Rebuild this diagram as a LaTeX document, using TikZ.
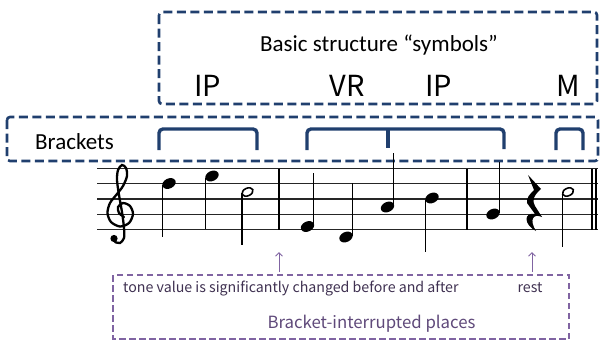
\documentclass[tikz,border=0pt]{standalone}
\usepackage{fontspec}
\setmainfont{Carlito}
\newfontfamily\jpfont{Noto Sans CJK JP}
\usetikzlibrary{arrows.meta}
\definecolor{navy}{HTML}{203F6E}
\definecolor{purp}{HTML}{8064A2}
\definecolor{purptext}{HTML}{5F497A}
\definecolor{darktext}{HTML}{3F3151}
\newcommand\qhead[2]{\fill[shift={(#1,#2)},rotate=25] (0,0) ellipse [x radius=7pt, y radius=5pt];}
\newcommand\hhead[2]{\draw[line width=1.6pt,shift={(#1,#2)},rotate=25] (0,0) ellipse [x radius=5.8pt, y radius=3.8pt];}
\begin{document}
\begin{tikzpicture}[x=1pt,y=-1pt,
  bluebox/.style={draw=navy, line width=2.6pt, dash pattern=on 9pt off 4.5pt, rounded corners=3pt},
  brk/.style={draw=navy, line width=3.4pt, rounded corners=4pt},
  staffline/.style={draw=black!85, line width=1.2pt},
  stemline/.style={draw=black, line width=1.2pt},
  purplebox/.style={draw=purp, line width=1.8pt, dash pattern=on 6.5pt off 3.5pt},
  parrow/.style={draw=purp, line width=1pt, -{Straight Barb[length=3.5pt,width=7pt]}},
  sym/.style={font=\jpfont\fontsize{29}{29}\selectfont, anchor=base, inner sep=0pt},
]
\useasboundingbox (0,0) rectangle (600,341);
% boxes
\draw[bluebox] (159,12) rectangle (597,104);
\draw[bluebox] (7,117) rectangle (598,161);
\node[font=\fontsize{23}{23}\selectfont, anchor=base, inner sep=0pt] (basic) at (379,51) {Basic structure “symbols”};
\node[font=\fontsize{23}{23}\selectfont, anchor=base west, inner sep=0pt] (brackets) at (35,149) {Brackets};
\node[sym] (ip1) at (207.5,96) {IP};
\node[sym] (vr) at (347,96) {VR};
\node[sym] (ip2) at (438.5,96) {IP};
\node[sym] (m) at (568,96) {M};
% brackets
\draw[brk] (159,150) -- (159,129) -- (257,129) -- (257,150);
\draw[brk] (307,150) -- (307,129) -- (504,129) -- (504,149);
\draw[brk] (388,129) -- (388,148);
\draw[brk] (556,150) -- (556,129) -- (583,129) -- (583,150);
% staff
\foreach \y in {168.5,183.75,199,214.25,229.5} \draw[staffline] (97,\y) -- (598,\y);
\foreach \x in {279,467,592,596} \draw[stemline] (\x,168.5) -- (\x,229.5);
% treble clef (drawn as a shape)
\draw[line width=2.3pt, line cap=round, smooth] plot coordinates {(124,217) (119,213) (118,207) (123,203) (130,206) (133,214) (129,223) (120,226.5) (111,222) (107.5,213) (110,203) (117,194) (123,186) (127,176) (126,168) (122,165) (118,170) (117,180) (119,195) (122,212) (124,228) (124,238) (120,243) (115,242)};
\fill (114,238.5) circle (3.6pt);
% measure 1
\qhead{169}{183.5} \draw[stemline] (162.5,185) -- (162.5,237);
\qhead{212}{176} \draw[stemline] (205.5,177.5) -- (205.5,229);
\hhead{247.5}{192} \draw[stemline] (242,193) -- (242,245);
% measure 2
\qhead{307.5}{226.5} \draw[stemline] (313.8,225) -- (313.8,173);
\qhead{346}{237} \draw[stemline] (352.3,235.5) -- (352.3,183);
\qhead{387.5}{207} \draw[stemline] (393.8,205.5) -- (393.8,153);
\qhead{432}{198} \draw[stemline] (425.5,199.5) -- (425.5,252);
% measure 3
\qhead{493}{214} \draw[stemline] (499.3,212.5) -- (499.3,162);
\fill (528,175) -- (541,189) .. controls (533,196) and (532,201) .. (535,206) -- (542,217) .. controls (533,213) and (529,220) .. (536,231) .. controls (524,225) and (523,212) .. (535,214) -- (527,203) .. controls (526,198) and (530,194) .. (534,190) -- cycle;
\hhead{568}{192} \draw[stemline] (562.3,193) -- (562.3,247);
% lower box
\draw[purplebox] (113,275) rectangle (569,339);
\coordinate (a1s) at (279,272); \coordinate (a1e) at (279,252);
\coordinate (a2s) at (532,272); \coordinate (a2e) at (532,252);
\draw[parrow] (a1s) -- (a1e);
\draw[parrow] (a2s) -- (a2e);
\node[font=\jpfont\fontsize{14.2}{14.2}\selectfont, text=darktext, anchor=base west, inner sep=0pt] (tone) at (123,292) {tone value is significantly changed before and after};
\node[font=\jpfont\fontsize{14.2}{14.2}\selectfont, text=darktext, anchor=base, inner sep=0pt] (rest) at (530,292) {rest};
\node[font=\jpfont\fontsize{16.8}{16.8}\selectfont, text=purptext, anchor=base, inner sep=0pt] (bip) at (371.5,328) {Bracket-interrupted places};
\end{tikzpicture}
\end{document}
